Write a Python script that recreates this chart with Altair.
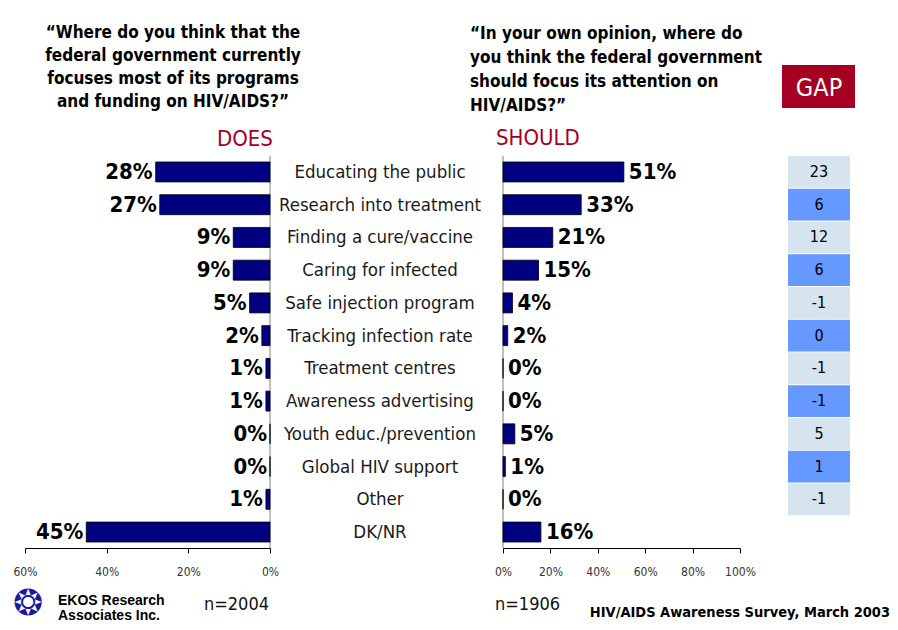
import altair as alt
import pandas as pd

categories = [
    "Educating the public", "Research into treatment", "Finding a cure/vaccine",
    "Caring for infected", "Safe injection program", "Tracking infection rate",
    "Treatment centres", "Awareness advertising", "Youth educ./prevention",
    "Global HIV support", "Other", "DK/NR",
]
does = [28, 27, 9, 9, 5, 2, 1, 1, 0, 0, 1, 45]
should = [51, 33, 21, 15, 4, 2, 0, 0, 5, 1, 0, 16]
gap = [23, 6, 12, 6, -1, 0, -1, -1, 5, 1, -1]
ticks_left = [0, 20, 40, 60]
ticks_right = [0, 20, 40, 60, 80, 100]

question_does = "“Where do you think that the\nfederal government currently\nfocuses most of its programs\nand funding on HIV/AIDS?”"
question_should = "“In your own opinion, where do\nyou think the federal government\nshould focus its attention on\nHIV/AIDS?”"

W, H = 882, 614
NARROW = "DejaVu Sans Condensed"
SANS = "Liberation Sans"
NAVY = "#000080"
RED = "#A50021"
Y_RANGE = [147.6, 540.4]

df = pd.DataFrame({"cat": categories, "does": does, "should": should})
gdf = pd.DataFrame({
    "cat": categories[:len(gap)],
    "gap": gap,
    "shade": ["a" if i % 2 == 0 else "b" for i in range(len(gap))],
})


def yband(pad=0.39):
    return alt.Y("cat:N", sort=categories, axis=None,
                 scale=alt.Scale(type="band", domain=categories, range=Y_RANGE,
                                 paddingInner=pad, paddingOuter=pad / 2))


def xaxis(values):
    return alt.Axis(values=values, labelExpr="datum.value + '%'", orient="bottom",
                    offset=-74, grid=False, domainColor="#000000", tickColor="#000000",
                    tickSize=5, labelPadding=13, labelFont=NARROW, labelFontSize=12,
                    labelColor="#333333", labelFlush=False, labelOverlap=False, title=None)


xl = alt.Scale(domain=[0, 60], range=[262, 17])
xr = alt.Scale(domain=[0, 100], range=[495, 732])

base = alt.Chart(df)

left_bars = base.mark_bar(color=NAVY, stroke="#000000", strokeWidth=0.8).encode(
    x=alt.X("does:Q", scale=xl, axis=xaxis(ticks_left)), y=yband())
left_text = base.transform_calculate(lbl="datum.does + '%'").mark_text(
    align="right", baseline="middle", dx=-3, font=NARROW, fontWeight="bold",
    fontSize=22, color="#000000").encode(
    x=alt.X("does:Q", scale=xl, axis=None), y=yband(), text="lbl:N")
left_rule = alt.Chart(pd.DataFrame({"v": [0]})).mark_rule(color="#808080", strokeWidth=1).encode(
    x=alt.X("v:Q", scale=xl, axis=None), y=alt.value(Y_RANGE[0]), y2=alt.value(540))

right_bars = base.mark_bar(color=NAVY, stroke="#000000", strokeWidth=0.8).encode(
    x=alt.X("should:Q", scale=xr, axis=xaxis(ticks_right)), y=yband())
right_text = base.transform_calculate(lbl="datum.should + '%'").mark_text(
    align="left", baseline="middle", dx=5, font=NARROW, fontWeight="bold",
    fontSize=22, color="#000000").encode(
    x=alt.X("should:Q", scale=xr, axis=None), y=yband(), text="lbl:N")
right_rule = alt.Chart(pd.DataFrame({"v": [0]})).mark_rule(color="#808080", strokeWidth=1).encode(
    x=alt.X("v:Q", scale=xr, axis=None), y=alt.value(Y_RANGE[0]), y2=alt.value(540))

cat_text = base.mark_text(align="center", baseline="middle", font=NARROW, fontSize=18.5,
                          color="#1a1a1a").encode(x=alt.value(372), y=yband(), text="cat:N")

gbase = alt.Chart(gdf)
gap_cells = gbase.mark_rect().encode(
    x=alt.value(780), x2=alt.value(842), y=yband(0.03),
    color=alt.Color("shade:N", legend=None,
                    scale=alt.Scale(domain=["a", "b"], range=["#D5E4EE", "#6699FF"])))
gap_text = gbase.mark_text(align="center", baseline="middle", font=NARROW, fontSize=16,
                           color="#000000").encode(x=alt.value(811), y=yband(), text="gap:N")


def note(text, x, y, **kw):
    return alt.Chart(pd.DataFrame({"t": [text]})).mark_text(**kw).encode(
        x=alt.value(x), y=alt.value(y), text="t:N")


q_left = note(question_does, 165, 30, align="center", baseline="alphabetic", font=NARROW,
              fontWeight="bold", fontSize=17, lineHeight=23, lineBreak="\n", color="#000000")
q_right = note(question_should, 462, 31, align="left", baseline="alphabetic", font=NARROW,
               fontWeight="bold", fontSize=17, lineHeight=24, lineBreak="\n", color="#000000")
does_lbl = note("DOES", 237, 138, align="center", baseline="alphabetic", font=NARROW,
                fontSize=22, color=RED)
should_lbl = note("SHOULD", 488, 137, align="left", baseline="alphabetic", font=NARROW,
                  fontSize=22, color=RED)
gap_box = alt.Chart(pd.DataFrame({"t": ["GAP"]})).mark_rect(color=RED).encode(
    x=alt.value(774), x2=alt.value(847), y=alt.value(57), y2=alt.value(100))
gap_lbl = note("GAP", 811, 80, align="center", baseline="middle", font=NARROW,
               fontSize=25, color="#FFFFFF")

logo = note("❂", 20, 596, align="center", baseline="middle", font="DejaVu Sans",
            fontSize=36, color="#1A1AA0")
ekos1 = note("EKOS Research", 50, 597, align="left", baseline="alphabetic", font=SANS,
             fontWeight="bold", fontSize=14, color="#000000")
ekos2 = note("Associates Inc.", 50, 612, align="left", baseline="alphabetic", font=SANS,
             fontWeight="bold", fontSize=14, color="#000000")
n_left = note("n=2004", 261, 602, align="right", baseline="alphabetic", font=NARROW,
              fontSize=18, color="#111111")
n_right = note("n=1906", 487, 602, align="left", baseline="alphabetic", font=NARROW,
               fontSize=18, color="#111111")
source = note("HIV/AIDS Awareness Survey, March 2003", 882, 609, align="right",
              baseline="alphabetic", font=NARROW, fontWeight="bold", fontSize=14.5,
              color="#000000")

chart = alt.layer(
    left_rule, right_rule, left_bars, left_text, right_bars, right_text, cat_text,
    gap_cells, gap_text, q_left, q_right, does_lbl, should_lbl, gap_box, gap_lbl,
    logo, ekos1, ekos2, n_left, n_right, source,
).resolve_scale(x="independent", y="independent", color="independent").properties(
    width=W, height=H, autosize=alt.AutoSizeParams(type="none"), padding=0,
    background="#FFFFFF",
).configure_view(stroke=None)

chart.save("out.html", embed_options={"renderer": "svg", "actions": False})
